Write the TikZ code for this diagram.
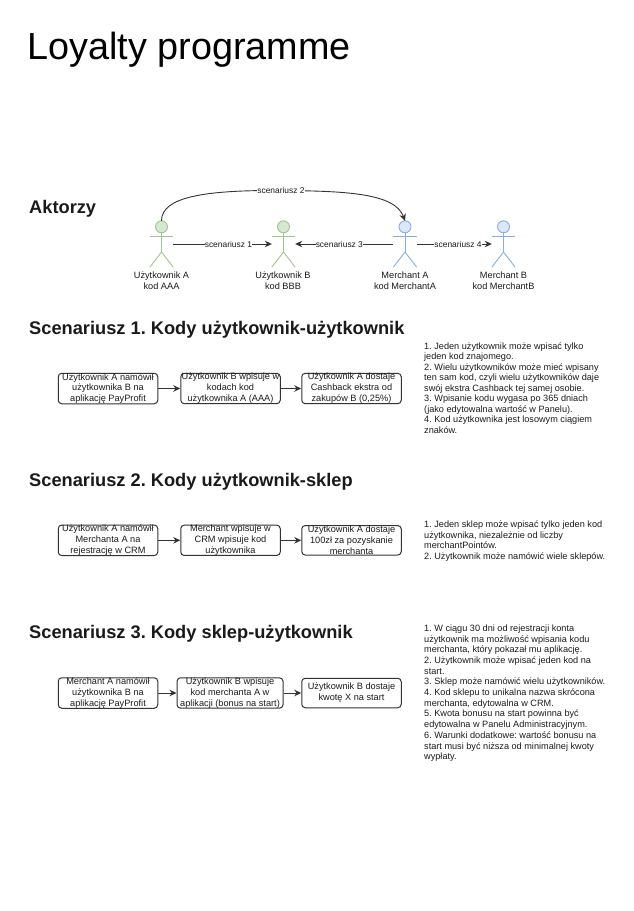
\documentclass[tikz,border=0pt]{standalone}
\usepackage{fontspec}
\setmainfont{Liberation Sans}
\usetikzlibrary{arrows.meta,calc}
\definecolor{actgreen}{HTML}{A3C293}
\definecolor{actgreenf}{HTML}{D5E8D4}
\definecolor{actblue}{HTML}{8AADD6}
\definecolor{actbluef}{HTML}{DAE8FC}
\definecolor{inkc}{HTML}{1A1A1A}
\frenchspacing
\tikzset{
  x=1pt,y=-1pt,
  every node/.style={text=inkc},
  heading/.style={anchor=base west,inner sep=0pt,font=\fontsize{18.25}{22}\selectfont\bfseries},
  maintitle/.style={anchor=base west,inner sep=0pt,font=\fontsize{37.8}{42}\selectfont,text=black},
  flowbox/.style={draw=black!80,line width=1pt,rounded corners=3.5pt,minimum width=99.5pt,minimum height=29.5pt,inner sep=0pt,align=center,font=\fontsize{9.2}{10.9}\selectfont},
  actorbox/.style={minimum width=23pt,minimum height=46pt,inner sep=0pt},
  actorlabel/.style={anchor=north,inner sep=0pt,align=center,font=\fontsize{9.2}{11}\selectfont},
  edgelabel/.style={fill=white,inner sep=0pt,font=\fontsize{8.4}{10}\selectfont},
  flowarrow/.style={draw=black!80,line width=0.9pt,-{Stealth[length=7pt,width=6.5pt]}},
  notes/.style={anchor=north west,inner sep=0pt,align=left,font=\fontsize{9.15}{10.7}\selectfont},
}
\begin{document}
\begin{tikzpicture}
\useasboundingbox (0,0) rectangle (634,911);
\node[maintitle] (title) at (27,59) {Loyalty programme};
\node[heading] (h0) at (29,213) {Aktorzy};
\node[heading] (h1) at (29,334) {Scenariusz 1. Kody użytkownik-użytkownik};
\node[heading] (h2) at (29,486) {Scenariusz 2. Kody użytkownik-sklep};
\node[heading] (h3) at (29,638) {Scenariusz 3. Kody sklep-użytkownik};

% actors
\node[actorbox] (ua) at (161.5,244) {};
\node[actorbox] (ub) at (283.5,244) {};
\node[actorbox] (ma) at (405,244) {};
\node[actorbox] (mb) at (503.5,244) {};
\foreach \n/\s/\f in {ua/actgreen/actgreenf,ub/actgreen/actgreenf,ma/actblue/actbluef,mb/actblue/actbluef}{
  \draw[\s,fill=\f,line width=0.9pt] ($(\n.north)+(0,6)$) circle[radius=6pt];
  \draw[\s,line width=0.9pt] ($(\n.north)+(0,12)$) -- ($(\n.center)+(0,8)$);
  \draw[\s,line width=0.9pt] ($(\n.north west)+(0,15.5)$) -- ($(\n.north east)+(0,15.5)$);
  \draw[\s,line width=0.9pt] (\n.south west) -- ($(\n.center)+(0,8)$) -- (\n.south east);
}
\node[actorlabel] (ual) at (161.5,271.2) {Użytkownik A\\kod AAA};
\node[actorlabel] (ubl) at (283,272) {Użytkownik B\\kod BBB};
\node[actorlabel] (mal) at (405,272) {Merchant A\\kod MerchantA};
\node[actorlabel] (mbl) at (503.5,272) {Merchant B\\kod MerchantB};

\draw[flowarrow] (ua.east) -- (ub.west) node[edgelabel,pos=0.56] {scenariusz 1};
\draw[flowarrow] (ma.west) -- (ub.east) node[edgelabel,pos=0.55] {scenariusz 3};
\draw[flowarrow] (ma.east) -- (mb.west) node[edgelabel,pos=0.55] {scenariusz 4};
\draw[flowarrow] (ua.north) .. controls ++(0,-24) and (205,190) .. (281,190.5)
   node[edgelabel] {scenariusz 2} .. controls (345,191) and (395,193) .. (ma.north);

% scenario 1
\node[flowbox] (a1) at (108,388.5) {Użytkownik A namówił\\użytkownika B na\\aplikację PayProfit};
\node[flowbox] (a2) at (230.5,388.5) {Użytkownik B wpisuje w\\kodach kod\\użytkownika A (AAA)};
\node[flowbox] (a3) at (351.5,388.5) {Użytkownik A dostaje\\Cashback ekstra od\\zakupów B (0,25\%)};
\draw[flowarrow] (a1) -- (a2);
\draw[flowarrow] (a2) -- (a3);
\node[notes,font=\fontsize{9.15}{10.5}\selectfont] (n1) at (424,342.5) {1. Jeden użytkownik może wpisać tylko\\jeden kod znajomego.\\2. Wielu użytkowników może mieć wpisany\\ten sam kod, czyli wielu użytkowników daje\\swój ekstra Cashback tej samej osobie.\\3. Wpisanie kodu wygasa po 365 dniach\\(jako edytowalna wartość w Panelu).\\4. Kod użytkownika jest losowym ciągiem\\znaków.};

% scenario 2
\node[flowbox] (b1) at (108,540.3) {Użytkownik A namówił\\Merchanta A na\\rejestrację w CRM};
\node[flowbox] (b2) at (230.5,540.3) {Merchant wpisuje w\\CRM wpisuje kod\\użytkownika};
\node[flowbox] (b3) at (351.5,540.3) {Użytkownik A dostaje\\100zł za pozyskanie\\merchanta};
\draw[flowarrow] (b1) -- (b2);
\draw[flowarrow] (b2) -- (b3);
\node[notes] (n2) at (424,520.5) {1. Jeden sklep może wpisać tylko jeden kod\\użytkownika, niezależnie od liczby\\merchantPointów.\\2. Użytkownik może namówić wiele sklepów.};

% scenario 3
\node[flowbox] (c1) at (108,693) {Merchant A namówił\\użytkownika B na\\aplikację PayProfit};
\node[flowbox,minimum width=106pt] (c2) at (230,693) {Użytkownik B wpisuje\\kod merchanta A w\\aplikacji (bonus na start)};
\node[flowbox] (c3) at (351.5,693) {Użytkownik B dostaje\\kwotę X na start};
\draw[flowarrow] (c1) -- (c2);
\draw[flowarrow] (c2) -- (c3);
\node[notes] (n3) at (424,624.5) {1. W ciągu 30 dni od rejestracji konta\\użytkownik ma możliwość wpisania kodu\\merchanta, który pokazał mu aplikację.\\2. Użytkownik może wpisać jeden kod na\\start.\\3. Sklep może namówić wielu użytkowników.\\4. Kod sklepu to unikalna nazwa skrócona\\merchanta, edytowalna w CRM.\\5. Kwota bonusu na start powinna być\\edytowalna w Panelu Administracyjnym.\\6. Warunki dodatkowe: wartość bonusu na\\start musi być niższa od minimalnej kwoty\\wypłaty.};
\end{tikzpicture}
\end{document}
